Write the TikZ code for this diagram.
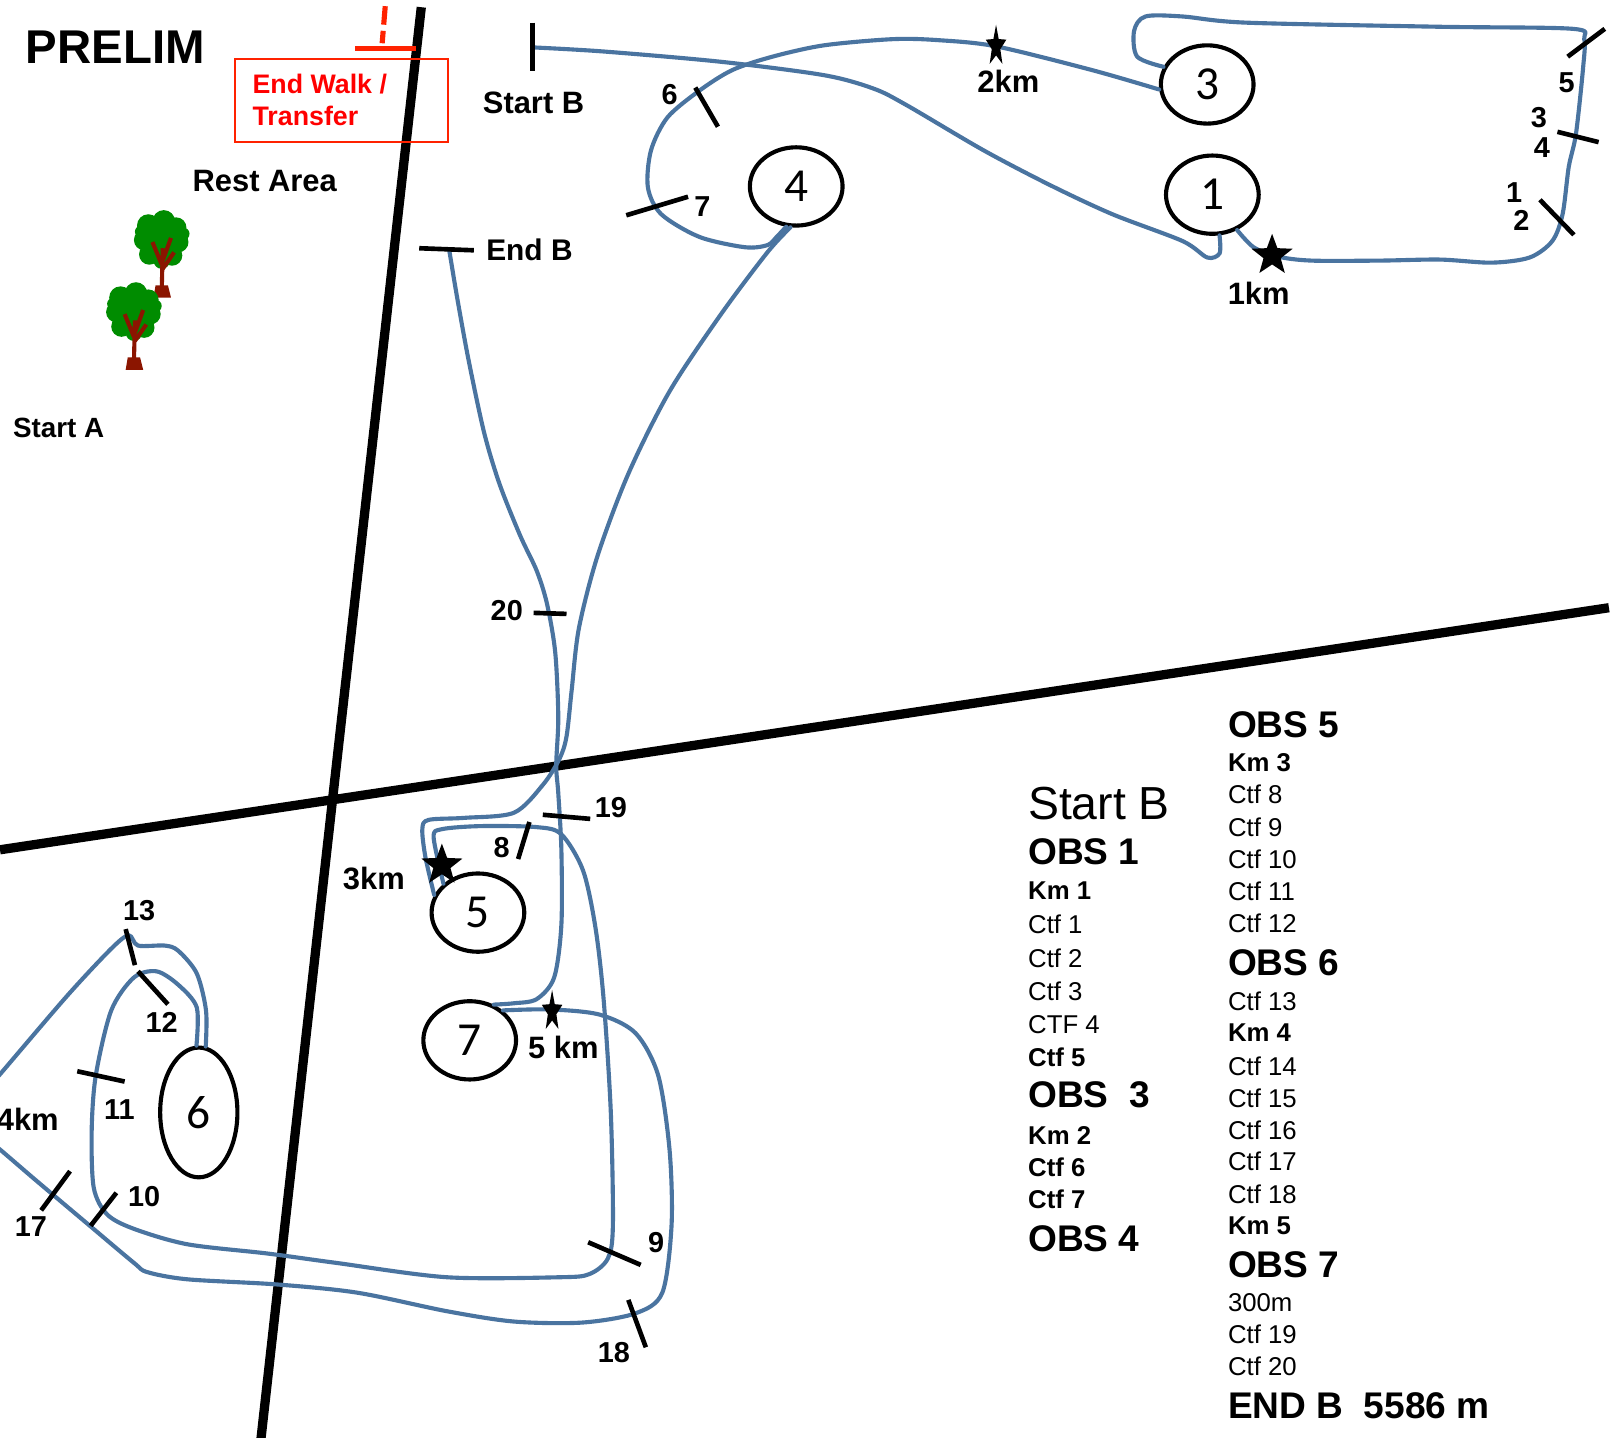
\documentclass[tikz,border=0pt]{standalone}
\usepackage{fontspec}
\setmainfont{Liberation Sans}
\newfontfamily\obsfont{Carlito}
\usetikzlibrary{shapes.geometric}
\definecolor{route}{HTML}{4A74A0}
\definecolor{marker}{HTML}{FF2200}
\definecolor{leaf}{HTML}{008C00}
\definecolor{bark}{HTML}{8B1500}
\tikzset{
  road/.style={draw=black, line width=9pt},
  track/.style={draw=route, line width=4pt, line cap=round, line join=round},
  tick/.style={draw=black, line width=4.5pt},
  obs/.style={ellipse, draw=black, line width=4pt, inner sep=0pt,
    minimum width=90pt, minimum height=76pt, font=\obsfont\fontsize{46}{46}\selectfont},
  lab/.style={font=\fontsize{30}{32}\selectfont\bfseries},
  num/.style={font=\fontsize{28}{30}\selectfont\bfseries, inner sep=0pt},
  kmstar/.style={star, star points=5, star point ratio=2.4, fill=black, inner sep=0pt, minimum size=42pt},
  leg/.style={anchor=west, inner sep=0pt, font=\fontsize{25}{26}\selectfont},
  legb/.style={leg, font=\fontsize{25}{26}\selectfont\bfseries},
  legh/.style={leg, font=\fontsize{36}{38}\selectfont\bfseries},
  tree/.pic={
    \fill[leaf] (0,0) circle (15) (-13,-14) circle (11) (2,-18) circle (11) (14,-12) circle (10)
      (-17,0) circle (10) (16,2) circle (10) (-12,14) circle (10) (10,15) circle (10)
      (-20,-8) circle (6) (21,-6) circle (6) (0,20) circle (8);
    \draw[bark, line width=4pt] (0,50) -- (1,8) (0,24) -- (-9,2) (1,20) -- (9,-2) (1,28) -- (12,12);
    \fill[bark] (-6,44) -- (6,44) -- (9,56) -- (-8,56) -- cycle;
  },
}

\begin{document}
\begin{tikzpicture}[x=1pt, y=-1pt]
  \fill[white] (0,0) rectangle (1565,1396);
  \useasboundingbox (0,0) rectangle (1565,1396);

  % roads
  \draw[road] (409,7) -- (253,1400);
  \draw[road] (0,825) -- (1562,590);

  % transfer marker
  \draw[marker, line width=5pt] (345,47) -- (404,47);
  \draw[marker, line width=5pt, dash pattern=on 18pt off 6pt] (374,6) -- (371,42);
  \draw[marker, line width=1.8pt] (228,57) rectangle (435,138);
  \node[anchor=west, align=left, text=red, inner sep=0pt, font=\fontsize{26}{31}\selectfont\bfseries]
    (transfer) at (245,97) {End Walk /\\Transfer};

  % titles
  \node[anchor=west, inner sep=0pt, font=\fontsize{46}{48}\selectfont\bfseries] (title) at (25,46) {PRELIM};
  \node[lab] (startBlab) at (518,100) {Start B};
  \node[lab] (rest) at (257,176) {Rest Area};
  \node[lab, font=\fontsize{27}{30}\selectfont\bfseries] (startA) at (57,415) {Start A};
  \node[lab, font=\fontsize{29}{30}\selectfont\bfseries] (endBlab) at (514,243) {End B};

  \pic at (157,233) {tree};
  \pic at (130,303) {tree};

  % obstacles
  \node[obs] (o3) at (1172,82) {3};
  \node[obs] (o1) at (1177,189) {1};
  \node[obs] (o4) at (773,181) {4};
  \node[obs] (o5) at (464,886) {5};
  \node[obs] (o7) at (456,1010) {7};
  \node[obs, minimum width=75pt, minimum height=126pt] (o6) at (193,1080) {6};

  \coordinate (startB) at (517,46);
  \coordinate (endB) at (436,242);

  % route
  \draw[track] plot[smooth, tension=0.5] coordinates {(startB) (586,50) (700,60) (800,73) (848,86)
    (880,102) (955,146) (1020,180) (1080,208) (1148,234) (1172,250) (1184,246) (o1.280)};
  \draw[track] plot[smooth, tension=0.5] coordinates {(o1.305) (1217,240) (1240,249) (1273,253)
    (1340,253) (1398,252) (1448,255) (1485,250) (1507,234) (1517,208) (1523,162) (1530,130)
    (1537,65) (1538,38) (1527,28) (1398,26) (1210,22) (1148,16) (1112,16) (1101,30) (1104,55) (o3.158)};
  \draw[track] plot[smooth, tension=0.5] coordinates {(o3.186) (1060,68) (967,45) (911,39) (867,38)
    (800,44) (750,55) (711,68) (679,88) (648,114) (632,146) (629,182) (642,208) (679,230)
    (723,240) (745,238) (754,230) (o4.256)};
  \draw[track] plot[smooth, tension=0.5] coordinates {(o4.262) (745,245) (700,305) (650,380)
    (610,460) (580,540) (562,610) (555,670) (550,715) (543,737) (527,762) (499,789) (451,794)
    (416,796) (410,805) (413,832) (o5.158)};
  \draw[track] plot[smooth, tension=0.5] coordinates {(o5.140) (421,813) (429,805) (467,802)
    (521,803) (545,810) (566,845) (578,900) (586,970) (593,1080) (595,1190) (590,1222) (572,1237)
    (543,1240) (434,1240) (326,1226) (260,1217) (182,1208) (130,1193) (104,1179) (91,1153)
    (89,1098) (93,1044) (108,981) (130,949) (152,943) (173,956) (191,978) (o6.92)};
  \draw[track] plot[smooth, tension=0.5] coordinates {(o6.84) (200,981) (191,945) (173,923)
    (160,918) (134,918) (125,908) (108,921) (65,967) (0,1043) (-20,1066)};
  \draw[track] plot[smooth, tension=0.5] coordinates {(-20,1100) (0,1116) (35,1146) (86,1189)
    (130,1226) (143,1235) (182,1242) (269,1247) (347,1255) (434,1273) (499,1283) (565,1284)
    (617,1275) (643,1255) (652,1189) (650,1116) (639,1044) (617,1003) (582,985) (534,980) (o7.42)};
  \draw[track] plot[smooth, tension=0.5] coordinates {(o7.56) (499,974) (521,970) (538,949)
    (545,898) (545,825) (542,770) (540,743) (542,696) (539,633) (531,586) (521,554) (505,520)
    (485,470) (470,420) (455,350) (444,290) (endB)};

  % start / end ticks
  \draw[tick, line width=5pt] (517,22) -- (517,69);
  \draw[tick] (407,241) -- (460,243);

  % control ticks
  \draw[tick] (675,85) -- (697,123);   \node[num] (c6) at (650,92) {6};
  \draw[tick] (608,209) -- (668,191);  \node[num] (c7) at (682,201) {7};
  \draw[tick] (1522,55) -- (1558,28);  \node[num] (c5) at (1521,80) {5};
  \draw[tick] (1512,128) -- (1552,138);\node[num] (c3) at (1494,114) {3};
                                       \node[num] (c4) at (1497,143) {4};
  \draw[tick] (1495,194) -- (1528,228);\node[num] (c1) at (1470,187) {1};
                                       \node[num] (c2) at (1477,214) {2};
  \draw[tick] (518,595) -- (550,596);  \node[num] (c20) at (492,593) {20};
  \draw[tick] (527,791) -- (573,795);  \node[num] (c19) at (593,784) {19};
  \draw[tick] (503,834) -- (514,798);  \node[num] (c8) at (487,823) {8};
  \draw[tick] (122,902) -- (131,937);  \node[num] (c13) at (135,884) {13};
  \draw[tick] (134,943) -- (163,975);  \node[num] (c12) at (157,993) {12};
  \draw[tick] (75,1040) -- (121,1050); \node[num] (c11) at (116,1077) {11};
  \draw[tick] (88,1190) -- (113,1158); \node[num] (c10) at (140,1162) {10};
  \draw[tick] (40,1175) -- (68,1137);  \node[num] (c17) at (30,1191) {17};
  \draw[tick] (571,1206) -- (622,1228);\node[num] (c9) at (637,1206) {9};
  \draw[tick] (610,1262) -- (627,1308);\node[num] (c18) at (596,1313) {18};

  % km marks
  \node[kmstar] (km1) at (1235,248) {};
  \node[kmstar] (km3) at (429,840) {};
  \begin{scope}[shift={(967,45)}, xscale=0.5]
    \node[kmstar, minimum size=42pt, transform shape] (km2) at (0,0) {};
  \end{scope}
  \begin{scope}[shift={(536,982)}, xscale=0.5]
    \node[kmstar, minimum size=42pt, transform shape] (km5) at (0,0) {};
  \end{scope}
  \node[lab] (km1lab) at (1222,285) {1km};
  \node[lab] (km2lab) at (979,79) {2km};
  \node[lab] (km3lab) at (363,853) {3km};
  \node[lab] (km4lab) at (27,1087) {4km};
  \node[lab] (km5lab) at (547,1017) {5 km};

  % legend
  \node[leg, font=\fontsize{45}{46}\selectfont] (lgStart) at (998,780) {Start B};
  \node[legh] (lgObs1) at (998,827) {OBS 1};
  \node[legb] (lgKm1) at (998,865) {Km 1};
  \node[leg] (lgC1) at (998,897) {Ctf 1};
  \node[leg] (lgC2) at (998,930) {Ctf 2};
  \node[leg] (lgC3) at (998,962) {Ctf 3};
  \node[leg] (lgC4) at (998,995) {CTF 4};
  \node[legb] (lgC5) at (998,1026) {Ctf 5};
  \node[legh] (lgObs3) at (998,1063) {OBS~~3};
  \node[legb] (lgKm2) at (998,1102) {Km 2};
  \node[legb] (lgC6) at (998,1133) {Ctf 6};
  \node[legb] (lgC7) at (998,1164) {Ctf 7};
  \node[legh] (lgObs4) at (998,1203) {OBS 4};

  \node[legh] (lgObs5) at (1192,704) {OBS 5};
  \node[legb] (lgKm3) at (1192,740) {Km 3};
  \foreach \n/\y in {8/771, 9/803, 10/834, 11/865, 12/896}
    \node[leg] (lgC\n) at (1192,\y) {Ctf \n};
  \node[legh] (lgObs6) at (1192,935) {OBS 6};
  \node[leg] (lgC13) at (1192,972) {Ctf 13};
  \node[legb] (lgKm4) at (1192,1003) {Km 4};
  \foreach \n/\y in {14/1035, 15/1066, 16/1097, 17/1127, 18/1159}
    \node[leg] (lgC\n) at (1192,\y) {Ctf \n};
  \node[legb] (lgKm5) at (1192,1190) {Km 5};
  \node[legh] (lgObs7) at (1192,1228) {OBS 7};
  \node[leg] (lg300) at (1192,1265) {300m};
  \node[leg] (lgC19) at (1192,1295) {Ctf 19};
  \node[leg] (lgC20) at (1192,1326) {Ctf 20};
  \node[legh] (lgEnd) at (1192,1365) {END B~~5586 m};
\end{tikzpicture}
\end{document}
